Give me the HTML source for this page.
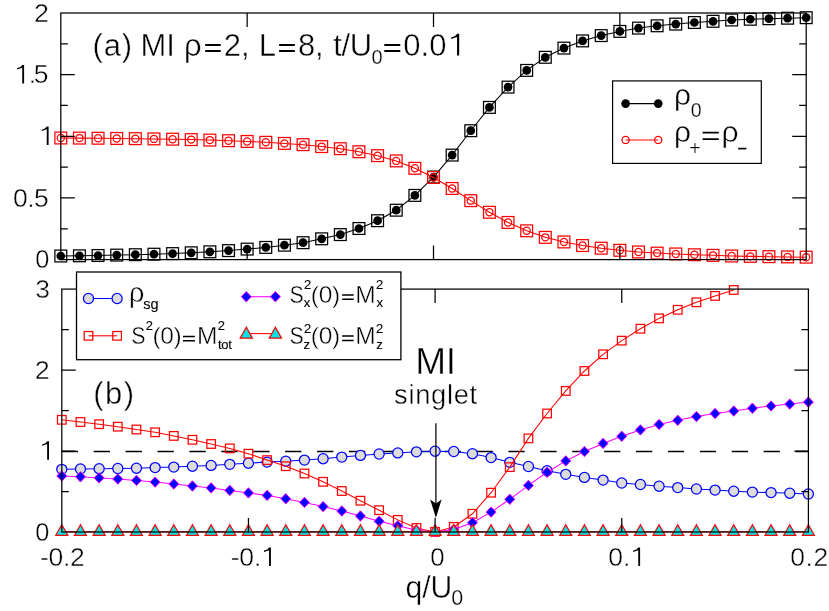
<!DOCTYPE html>
<html><head><meta charset="utf-8"><title>chart</title>
<style>html,body{margin:0;padding:0;background:#fff;}body{width:829px;height:611px;overflow:hidden;font-family:"Liberation Sans",sans-serif;}svg{display:block;}</style>
</head><body>
<svg width="829" height="611" viewBox="0 0 829 611">
<defs><filter id="gs" x="0" y="0" width="829" height="611" filterUnits="userSpaceOnUse" color-interpolation-filters="sRGB"><feColorMatrix type="saturate" values="0"/></filter></defs>
<rect x="0" y="0" width="829" height="611" fill="#fff"/>
<g fill="none" stroke="#000" stroke-width="1.05">
<polyline points="60.8,256 79.44,255.8 98.07,255.5 116.71,255.1 135.34,254.7 153.98,254.2 172.61,253.6 191.25,252.8 209.88,251.8 228.51,250.6 247.15,249.1 265.79,247.4 284.42,245.2 303.06,242.7 321.69,238.8 340.33,234.6 358.96,228.5 377.6,220.7 396.23,210.2 414.87,195.4 433.5,177.05 452.14,155.1 470.77,130.7 489.41,107.4 508.04,87.1 526.68,70.4 545.31,57.3 563.95,48.1 582.58,40.9 601.22,35.6 619.85,31.4 638.49,28.1 657.12,25.8 675.76,24.1 694.39,22.5 713.03,21.3 731.66,20 750.3,19.25 768.93,18.7 787.57,18.2 806.2,17.7"/>
</g>
<g fill="#000" stroke="none">
<circle cx="60.8" cy="256" r="4.35"/>
<circle cx="79.44" cy="255.8" r="4.35"/>
<circle cx="98.07" cy="255.5" r="4.35"/>
<circle cx="116.71" cy="255.1" r="4.35"/>
<circle cx="135.34" cy="254.7" r="4.35"/>
<circle cx="153.98" cy="254.2" r="4.35"/>
<circle cx="172.61" cy="253.6" r="4.35"/>
<circle cx="191.25" cy="252.8" r="4.35"/>
<circle cx="209.88" cy="251.8" r="4.35"/>
<circle cx="228.51" cy="250.6" r="4.35"/>
<circle cx="247.15" cy="249.1" r="4.35"/>
<circle cx="265.79" cy="247.4" r="4.35"/>
<circle cx="284.42" cy="245.2" r="4.35"/>
<circle cx="303.06" cy="242.7" r="4.35"/>
<circle cx="321.69" cy="238.8" r="4.35"/>
<circle cx="340.33" cy="234.6" r="4.35"/>
<circle cx="358.96" cy="228.5" r="4.35"/>
<circle cx="377.6" cy="220.7" r="4.35"/>
<circle cx="396.23" cy="210.2" r="4.35"/>
<circle cx="414.87" cy="195.4" r="4.35"/>
<circle cx="433.5" cy="177.05" r="4.35"/>
<circle cx="452.14" cy="155.1" r="4.35"/>
<circle cx="470.77" cy="130.7" r="4.35"/>
<circle cx="489.41" cy="107.4" r="4.35"/>
<circle cx="508.04" cy="87.1" r="4.35"/>
<circle cx="526.68" cy="70.4" r="4.35"/>
<circle cx="545.31" cy="57.3" r="4.35"/>
<circle cx="563.95" cy="48.1" r="4.35"/>
<circle cx="582.58" cy="40.9" r="4.35"/>
<circle cx="601.22" cy="35.6" r="4.35"/>
<circle cx="619.85" cy="31.4" r="4.35"/>
<circle cx="638.49" cy="28.1" r="4.35"/>
<circle cx="657.12" cy="25.8" r="4.35"/>
<circle cx="675.76" cy="24.1" r="4.35"/>
<circle cx="694.39" cy="22.5" r="4.35"/>
<circle cx="713.03" cy="21.3" r="4.35"/>
<circle cx="731.66" cy="20" r="4.35"/>
<circle cx="750.3" cy="19.25" r="4.35"/>
<circle cx="768.93" cy="18.7" r="4.35"/>
<circle cx="787.57" cy="18.2" r="4.35"/>
<circle cx="806.2" cy="17.7" r="4.35"/>
</g>
<g fill="none" stroke="#000" stroke-width="1.25">
<rect x="54.9" y="250.1" width="11.8" height="11.8"/>
<rect x="73.53" y="249.9" width="11.8" height="11.8"/>
<rect x="92.17" y="249.6" width="11.8" height="11.8"/>
<rect x="110.81" y="249.2" width="11.8" height="11.8"/>
<rect x="129.44" y="248.8" width="11.8" height="11.8"/>
<rect x="148.08" y="248.3" width="11.8" height="11.8"/>
<rect x="166.71" y="247.7" width="11.8" height="11.8"/>
<rect x="185.34" y="246.9" width="11.8" height="11.8"/>
<rect x="203.98" y="245.9" width="11.8" height="11.8"/>
<rect x="222.61" y="244.7" width="11.8" height="11.8"/>
<rect x="241.25" y="243.2" width="11.8" height="11.8"/>
<rect x="259.89" y="241.5" width="11.8" height="11.8"/>
<rect x="278.52" y="239.3" width="11.8" height="11.8"/>
<rect x="297.16" y="236.8" width="11.8" height="11.8"/>
<rect x="315.79" y="232.9" width="11.8" height="11.8"/>
<rect x="334.43" y="228.7" width="11.8" height="11.8"/>
<rect x="353.06" y="222.6" width="11.8" height="11.8"/>
<rect x="371.7" y="214.8" width="11.8" height="11.8"/>
<rect x="390.33" y="204.3" width="11.8" height="11.8"/>
<rect x="408.97" y="189.5" width="11.8" height="11.8"/>
<rect x="427.6" y="171.15" width="11.8" height="11.8"/>
<rect x="446.24" y="149.2" width="11.8" height="11.8"/>
<rect x="464.87" y="124.8" width="11.8" height="11.8"/>
<rect x="483.51" y="101.5" width="11.8" height="11.8"/>
<rect x="502.14" y="81.2" width="11.8" height="11.8"/>
<rect x="520.78" y="64.5" width="11.8" height="11.8"/>
<rect x="539.41" y="51.4" width="11.8" height="11.8"/>
<rect x="558.05" y="42.2" width="11.8" height="11.8"/>
<rect x="576.68" y="35" width="11.8" height="11.8"/>
<rect x="595.32" y="29.7" width="11.8" height="11.8"/>
<rect x="613.95" y="25.5" width="11.8" height="11.8"/>
<rect x="632.59" y="22.2" width="11.8" height="11.8"/>
<rect x="651.22" y="19.9" width="11.8" height="11.8"/>
<rect x="669.86" y="18.2" width="11.8" height="11.8"/>
<rect x="688.49" y="16.6" width="11.8" height="11.8"/>
<rect x="707.13" y="15.4" width="11.8" height="11.8"/>
<rect x="725.76" y="14.1" width="11.8" height="11.8"/>
<rect x="744.4" y="13.35" width="11.8" height="11.8"/>
<rect x="763.03" y="12.8" width="11.8" height="11.8"/>
<rect x="781.67" y="12.3" width="11.8" height="11.8"/>
<rect x="800.3" y="11.8" width="11.8" height="11.8"/>
</g>
<g fill="none" stroke="#f00" stroke-width="1.05">
<polyline points="60.8,138 79.44,138.1 98.07,138.25 116.71,138.45 135.34,138.65 153.98,138.9 172.61,139.2 191.25,139.6 209.88,140.1 228.51,140.7 247.15,141.45 265.79,142.3 284.42,143.4 303.06,144.65 321.69,146.6 340.33,148.7 358.96,151.75 377.6,155.65 396.23,160.9 414.87,168.3 433.5,177.47 452.14,188.45 470.77,200.65 489.41,212.3 508.04,222.45 526.68,230.8 545.31,237.35 563.95,241.95 582.58,245.55 601.22,248.2 619.85,250.3 638.49,251.95 657.12,253.1 675.76,253.95 694.39,254.75 713.03,255.35 731.66,256 750.3,256.38 768.93,256.65 787.57,256.9 806.2,257.15"/>
</g>
<g fill="none" stroke="#f00" stroke-width="1.25">
<circle cx="60.8" cy="138" r="3.6"/>
<rect x="54.9" y="132.1" width="11.8" height="11.8"/>
<circle cx="79.44" cy="138.1" r="3.6"/>
<rect x="73.53" y="132.2" width="11.8" height="11.8"/>
<circle cx="98.07" cy="138.25" r="3.6"/>
<rect x="92.17" y="132.35" width="11.8" height="11.8"/>
<circle cx="116.71" cy="138.45" r="3.6"/>
<rect x="110.81" y="132.55" width="11.8" height="11.8"/>
<circle cx="135.34" cy="138.65" r="3.6"/>
<rect x="129.44" y="132.75" width="11.8" height="11.8"/>
<circle cx="153.98" cy="138.9" r="3.6"/>
<rect x="148.08" y="133" width="11.8" height="11.8"/>
<circle cx="172.61" cy="139.2" r="3.6"/>
<rect x="166.71" y="133.3" width="11.8" height="11.8"/>
<circle cx="191.25" cy="139.6" r="3.6"/>
<rect x="185.34" y="133.7" width="11.8" height="11.8"/>
<circle cx="209.88" cy="140.1" r="3.6"/>
<rect x="203.98" y="134.2" width="11.8" height="11.8"/>
<circle cx="228.51" cy="140.7" r="3.6"/>
<rect x="222.61" y="134.8" width="11.8" height="11.8"/>
<circle cx="247.15" cy="141.45" r="3.6"/>
<rect x="241.25" y="135.55" width="11.8" height="11.8"/>
<circle cx="265.79" cy="142.3" r="3.6"/>
<rect x="259.89" y="136.4" width="11.8" height="11.8"/>
<circle cx="284.42" cy="143.4" r="3.6"/>
<rect x="278.52" y="137.5" width="11.8" height="11.8"/>
<circle cx="303.06" cy="144.65" r="3.6"/>
<rect x="297.16" y="138.75" width="11.8" height="11.8"/>
<circle cx="321.69" cy="146.6" r="3.6"/>
<rect x="315.79" y="140.7" width="11.8" height="11.8"/>
<circle cx="340.33" cy="148.7" r="3.6"/>
<rect x="334.43" y="142.8" width="11.8" height="11.8"/>
<circle cx="358.96" cy="151.75" r="3.6"/>
<rect x="353.06" y="145.85" width="11.8" height="11.8"/>
<circle cx="377.6" cy="155.65" r="3.6"/>
<rect x="371.7" y="149.75" width="11.8" height="11.8"/>
<circle cx="396.23" cy="160.9" r="3.6"/>
<rect x="390.33" y="155" width="11.8" height="11.8"/>
<circle cx="414.87" cy="168.3" r="3.6"/>
<rect x="408.97" y="162.4" width="11.8" height="11.8"/>
<circle cx="433.5" cy="177.47" r="3.6"/>
<rect x="427.6" y="171.57" width="11.8" height="11.8"/>
<circle cx="452.14" cy="188.45" r="3.6"/>
<rect x="446.24" y="182.55" width="11.8" height="11.8"/>
<circle cx="470.77" cy="200.65" r="3.6"/>
<rect x="464.87" y="194.75" width="11.8" height="11.8"/>
<circle cx="489.41" cy="212.3" r="3.6"/>
<rect x="483.51" y="206.4" width="11.8" height="11.8"/>
<circle cx="508.04" cy="222.45" r="3.6"/>
<rect x="502.14" y="216.55" width="11.8" height="11.8"/>
<circle cx="526.68" cy="230.8" r="3.6"/>
<rect x="520.78" y="224.9" width="11.8" height="11.8"/>
<circle cx="545.31" cy="237.35" r="3.6"/>
<rect x="539.41" y="231.45" width="11.8" height="11.8"/>
<circle cx="563.95" cy="241.95" r="3.6"/>
<rect x="558.05" y="236.05" width="11.8" height="11.8"/>
<circle cx="582.58" cy="245.55" r="3.6"/>
<rect x="576.68" y="239.65" width="11.8" height="11.8"/>
<circle cx="601.22" cy="248.2" r="3.6"/>
<rect x="595.32" y="242.3" width="11.8" height="11.8"/>
<circle cx="619.85" cy="250.3" r="3.6"/>
<rect x="613.95" y="244.4" width="11.8" height="11.8"/>
<circle cx="638.49" cy="251.95" r="3.6"/>
<rect x="632.59" y="246.05" width="11.8" height="11.8"/>
<circle cx="657.12" cy="253.1" r="3.6"/>
<rect x="651.22" y="247.2" width="11.8" height="11.8"/>
<circle cx="675.76" cy="253.95" r="3.6"/>
<rect x="669.86" y="248.05" width="11.8" height="11.8"/>
<circle cx="694.39" cy="254.75" r="3.6"/>
<rect x="688.49" y="248.85" width="11.8" height="11.8"/>
<circle cx="713.03" cy="255.35" r="3.6"/>
<rect x="707.13" y="249.45" width="11.8" height="11.8"/>
<circle cx="731.66" cy="256" r="3.6"/>
<rect x="725.76" y="250.1" width="11.8" height="11.8"/>
<circle cx="750.3" cy="256.38" r="3.6"/>
<rect x="744.4" y="250.47" width="11.8" height="11.8"/>
<circle cx="768.93" cy="256.65" r="3.6"/>
<rect x="763.03" y="250.75" width="11.8" height="11.8"/>
<circle cx="787.57" cy="256.9" r="3.6"/>
<rect x="781.67" y="251" width="11.8" height="11.8"/>
<circle cx="806.2" cy="257.15" r="3.6"/>
<rect x="800.3" y="251.25" width="11.8" height="11.8"/>
</g>
<line x1="61.8" y1="451.5" x2="808.4" y2="451.5" stroke="#000" stroke-width="1.3" stroke-dasharray="16.3 15.6"/>
<polyline fill="none" stroke="#00f" stroke-width="1.05" points="61.8,469.3 80.47,469 99.13,468.7 117.8,468.5 136.46,468.2 155.12,467.6 173.79,467.1 192.45,466.2 211.12,465.4 229.79,464.3 248.45,463.2 267.12,462.1 285.78,461.2 304.45,460.1 323.11,458.7 341.78,457.05 360.44,455.4 379.11,454 397.77,452.9 416.44,451.8 435.1,451.2 453.77,451.5 472.43,453.7 491.09,457.6 509.76,462.3 528.42,466.5 547.09,470.7 565.75,474.3 584.42,477.4 603.09,480.1 621.75,483 640.41,484.5 659.08,486.2 677.74,487.6 696.41,489 715.07,490.1 733.74,491.2 752.4,492.1 771.07,492.6 789.74,493.2 808.4,494"/>
<g fill="#dcdcdc" stroke="#00f" stroke-width="1.25">
<circle cx="61.8" cy="469.3" r="5.05"/>
<circle cx="80.47" cy="469" r="5.05"/>
<circle cx="99.13" cy="468.7" r="5.05"/>
<circle cx="117.8" cy="468.5" r="5.05"/>
<circle cx="136.46" cy="468.2" r="5.05"/>
<circle cx="155.12" cy="467.6" r="5.05"/>
<circle cx="173.79" cy="467.1" r="5.05"/>
<circle cx="192.45" cy="466.2" r="5.05"/>
<circle cx="211.12" cy="465.4" r="5.05"/>
<circle cx="229.79" cy="464.3" r="5.05"/>
<circle cx="248.45" cy="463.2" r="5.05"/>
<circle cx="267.12" cy="462.1" r="5.05"/>
<circle cx="285.78" cy="461.2" r="5.05"/>
<circle cx="304.45" cy="460.1" r="5.05"/>
<circle cx="323.11" cy="458.7" r="5.05"/>
<circle cx="341.78" cy="457.05" r="5.05"/>
<circle cx="360.44" cy="455.4" r="5.05"/>
<circle cx="379.11" cy="454" r="5.05"/>
<circle cx="397.77" cy="452.9" r="5.05"/>
<circle cx="416.44" cy="451.8" r="5.05"/>
<circle cx="435.1" cy="451.2" r="5.05"/>
<circle cx="453.77" cy="451.5" r="5.05"/>
<circle cx="472.43" cy="453.7" r="5.05"/>
<circle cx="491.09" cy="457.6" r="5.05"/>
<circle cx="509.76" cy="462.3" r="5.05"/>
<circle cx="528.42" cy="466.5" r="5.05"/>
<circle cx="547.09" cy="470.7" r="5.05"/>
<circle cx="565.75" cy="474.3" r="5.05"/>
<circle cx="584.42" cy="477.4" r="5.05"/>
<circle cx="603.09" cy="480.1" r="5.05"/>
<circle cx="621.75" cy="483" r="5.05"/>
<circle cx="640.41" cy="484.5" r="5.05"/>
<circle cx="659.08" cy="486.2" r="5.05"/>
<circle cx="677.74" cy="487.6" r="5.05"/>
<circle cx="696.41" cy="489" r="5.05"/>
<circle cx="715.07" cy="490.1" r="5.05"/>
<circle cx="733.74" cy="491.2" r="5.05"/>
<circle cx="752.4" cy="492.1" r="5.05"/>
<circle cx="771.07" cy="492.6" r="5.05"/>
<circle cx="789.74" cy="493.2" r="5.05"/>
<circle cx="808.4" cy="494" r="5.05"/>
</g>
<polyline fill="none" stroke="#f00" stroke-width="1.05" points="61.8,419.8 80.47,422 99.13,424.2 117.8,426.7 136.46,429.5 155.12,432.3 173.79,435.9 192.45,439.8 211.12,444 229.79,448.4 248.45,453.7 267.12,460.1 285.78,466.2 304.45,473.5 323.11,481.8 341.78,491 360.44,500.7 379.11,510.2 397.77,519.9 416.44,528 435.1,531.9 453.77,526.9 472.43,513.8 491.09,492.7 509.76,467.1 528.42,438.4 547.09,413.5 565.75,390.9 584.42,371 603.09,354.3 621.75,340.65 640.41,328.7 659.08,318.4 677.74,309.8 696.41,302.3 715.07,295.9 733.74,290"/>
<g fill="none" stroke="#f00" stroke-width="1.25">
<rect x="57.5" y="415.5" width="8.6" height="8.6"/>
<rect x="76.17" y="417.7" width="8.6" height="8.6"/>
<rect x="94.83" y="419.9" width="8.6" height="8.6"/>
<rect x="113.5" y="422.4" width="8.6" height="8.6"/>
<rect x="132.16" y="425.2" width="8.6" height="8.6"/>
<rect x="150.82" y="428" width="8.6" height="8.6"/>
<rect x="169.49" y="431.6" width="8.6" height="8.6"/>
<rect x="188.15" y="435.5" width="8.6" height="8.6"/>
<rect x="206.82" y="439.7" width="8.6" height="8.6"/>
<rect x="225.49" y="444.1" width="8.6" height="8.6"/>
<rect x="244.15" y="449.4" width="8.6" height="8.6"/>
<rect x="262.81" y="455.8" width="8.6" height="8.6"/>
<rect x="281.48" y="461.9" width="8.6" height="8.6"/>
<rect x="300.15" y="469.2" width="8.6" height="8.6"/>
<rect x="318.81" y="477.5" width="8.6" height="8.6"/>
<rect x="337.48" y="486.7" width="8.6" height="8.6"/>
<rect x="356.14" y="496.4" width="8.6" height="8.6"/>
<rect x="374.81" y="505.9" width="8.6" height="8.6"/>
<rect x="393.47" y="515.6" width="8.6" height="8.6"/>
<rect x="412.13" y="523.7" width="8.6" height="8.6"/>
<rect x="430.8" y="527.6" width="8.6" height="8.6"/>
<rect x="449.47" y="522.6" width="8.6" height="8.6"/>
<rect x="468.13" y="509.5" width="8.6" height="8.6"/>
<rect x="486.79" y="488.4" width="8.6" height="8.6"/>
<rect x="505.46" y="462.8" width="8.6" height="8.6"/>
<rect x="524.12" y="434.1" width="8.6" height="8.6"/>
<rect x="542.79" y="409.2" width="8.6" height="8.6"/>
<rect x="561.46" y="386.6" width="8.6" height="8.6"/>
<rect x="580.12" y="366.7" width="8.6" height="8.6"/>
<rect x="598.79" y="350" width="8.6" height="8.6"/>
<rect x="617.45" y="336.35" width="8.6" height="8.6"/>
<rect x="636.12" y="324.4" width="8.6" height="8.6"/>
<rect x="654.78" y="314.1" width="8.6" height="8.6"/>
<rect x="673.44" y="305.5" width="8.6" height="8.6"/>
<rect x="692.11" y="298" width="8.6" height="8.6"/>
<rect x="710.77" y="291.6" width="8.6" height="8.6"/>
<rect x="729.44" y="285.7" width="8.6" height="8.6"/>
</g>
<polyline fill="none" stroke="#f0f" stroke-width="1.05" points="61.8,476 80.47,476.8 99.13,477.9 117.8,479 136.46,480.4 155.12,482.1 173.79,484 192.45,486 211.12,487.9 229.79,490.4 248.45,492.9 267.12,495.4 285.78,498.8 304.45,502.4 323.11,506.6 341.78,511 360.44,516 379.11,521.3 397.77,525.8 416.44,530.2 435.1,531.9 453.77,529.4 472.43,522.7 491.09,512.1 509.76,499.3 528.42,485.4 547.09,472.3 565.75,460.9 584.42,451.5 603.09,443.4 621.75,436.3 640.41,429.9 659.08,424.5 677.74,420.3 696.41,416.6 715.07,413.5 733.74,411 752.4,408.2 771.07,406 789.74,404.1 808.4,402.1"/>
<g fill="#00f" stroke="#f0f" stroke-width="1">
<polygon points="56.8,476 61.8,470.8 66.8,476 61.8,481.2"/>
<polygon points="75.47,476.8 80.47,471.6 85.47,476.8 80.47,482"/>
<polygon points="94.13,477.9 99.13,472.7 104.13,477.9 99.13,483.1"/>
<polygon points="112.8,479 117.8,473.8 122.8,479 117.8,484.2"/>
<polygon points="131.46,480.4 136.46,475.2 141.46,480.4 136.46,485.6"/>
<polygon points="150.12,482.1 155.12,476.9 160.12,482.1 155.12,487.3"/>
<polygon points="168.79,484 173.79,478.8 178.79,484 173.79,489.2"/>
<polygon points="187.45,486 192.45,480.8 197.45,486 192.45,491.2"/>
<polygon points="206.12,487.9 211.12,482.7 216.12,487.9 211.12,493.1"/>
<polygon points="224.79,490.4 229.79,485.2 234.79,490.4 229.79,495.6"/>
<polygon points="243.45,492.9 248.45,487.7 253.45,492.9 248.45,498.1"/>
<polygon points="262.12,495.4 267.12,490.2 272.12,495.4 267.12,500.6"/>
<polygon points="280.78,498.8 285.78,493.6 290.78,498.8 285.78,504"/>
<polygon points="299.45,502.4 304.45,497.2 309.45,502.4 304.45,507.6"/>
<polygon points="318.11,506.6 323.11,501.4 328.11,506.6 323.11,511.8"/>
<polygon points="336.78,511 341.78,505.8 346.78,511 341.78,516.2"/>
<polygon points="355.44,516 360.44,510.8 365.44,516 360.44,521.2"/>
<polygon points="374.11,521.3 379.11,516.1 384.11,521.3 379.11,526.5"/>
<polygon points="392.77,525.8 397.77,520.6 402.77,525.8 397.77,531"/>
<polygon points="411.44,530.2 416.44,525 421.44,530.2 416.44,535.4"/>
<polygon points="430.1,531.9 435.1,526.7 440.1,531.9 435.1,537.1"/>
<polygon points="448.77,529.4 453.77,524.2 458.77,529.4 453.77,534.6"/>
<polygon points="467.43,522.7 472.43,517.5 477.43,522.7 472.43,527.9"/>
<polygon points="486.09,512.1 491.09,506.9 496.09,512.1 491.09,517.3"/>
<polygon points="504.76,499.3 509.76,494.1 514.76,499.3 509.76,504.5"/>
<polygon points="523.42,485.4 528.42,480.2 533.42,485.4 528.42,490.6"/>
<polygon points="542.09,472.3 547.09,467.1 552.09,472.3 547.09,477.5"/>
<polygon points="560.75,460.9 565.75,455.7 570.75,460.9 565.75,466.1"/>
<polygon points="579.42,451.5 584.42,446.3 589.42,451.5 584.42,456.7"/>
<polygon points="598.09,443.4 603.09,438.2 608.09,443.4 603.09,448.6"/>
<polygon points="616.75,436.3 621.75,431.1 626.75,436.3 621.75,441.5"/>
<polygon points="635.41,429.9 640.41,424.7 645.41,429.9 640.41,435.1"/>
<polygon points="654.08,424.5 659.08,419.3 664.08,424.5 659.08,429.7"/>
<polygon points="672.74,420.3 677.74,415.1 682.74,420.3 677.74,425.5"/>
<polygon points="691.41,416.6 696.41,411.4 701.41,416.6 696.41,421.8"/>
<polygon points="710.07,413.5 715.07,408.3 720.07,413.5 715.07,418.7"/>
<polygon points="728.74,411 733.74,405.8 738.74,411 733.74,416.2"/>
<polygon points="747.4,408.2 752.4,403 757.4,408.2 752.4,413.4"/>
<polygon points="766.07,406 771.07,400.8 776.07,406 771.07,411.2"/>
<polygon points="784.74,404.1 789.74,398.9 794.74,404.1 789.74,409.3"/>
<polygon points="803.4,402.1 808.4,396.9 813.4,402.1 808.4,407.3"/>
</g>
<line x1="61.8" y1="531.8" x2="808.4" y2="531.8" stroke="#f00" stroke-width="1.05"/>
<g fill="#00e6e6" stroke="#f00" stroke-width="1.25">
<polygon points="61.8,524.7 55.8,535.3 67.8,535.3"/>
<polygon points="80.47,524.7 74.47,535.3 86.47,535.3"/>
<polygon points="99.13,524.7 93.13,535.3 105.13,535.3"/>
<polygon points="117.8,524.7 111.8,535.3 123.8,535.3"/>
<polygon points="136.46,524.7 130.46,535.3 142.46,535.3"/>
<polygon points="155.12,524.7 149.12,535.3 161.12,535.3"/>
<polygon points="173.79,524.7 167.79,535.3 179.79,535.3"/>
<polygon points="192.45,524.7 186.45,535.3 198.45,535.3"/>
<polygon points="211.12,524.7 205.12,535.3 217.12,535.3"/>
<polygon points="229.79,524.7 223.79,535.3 235.79,535.3"/>
<polygon points="248.45,524.7 242.45,535.3 254.45,535.3"/>
<polygon points="267.12,524.7 261.12,535.3 273.12,535.3"/>
<polygon points="285.78,524.7 279.78,535.3 291.78,535.3"/>
<polygon points="304.45,524.7 298.45,535.3 310.45,535.3"/>
<polygon points="323.11,524.7 317.11,535.3 329.11,535.3"/>
<polygon points="341.78,524.7 335.78,535.3 347.78,535.3"/>
<polygon points="360.44,524.7 354.44,535.3 366.44,535.3"/>
<polygon points="379.11,524.7 373.11,535.3 385.11,535.3"/>
<polygon points="397.77,524.7 391.77,535.3 403.77,535.3"/>
<polygon points="416.44,524.7 410.44,535.3 422.44,535.3"/>
<polygon points="435.1,524.7 429.1,535.3 441.1,535.3"/>
<polygon points="453.77,524.7 447.77,535.3 459.77,535.3"/>
<polygon points="472.43,524.7 466.43,535.3 478.43,535.3"/>
<polygon points="491.09,524.7 485.09,535.3 497.09,535.3"/>
<polygon points="509.76,524.7 503.76,535.3 515.76,535.3"/>
<polygon points="528.42,524.7 522.42,535.3 534.42,535.3"/>
<polygon points="547.09,524.7 541.09,535.3 553.09,535.3"/>
<polygon points="565.75,524.7 559.75,535.3 571.75,535.3"/>
<polygon points="584.42,524.7 578.42,535.3 590.42,535.3"/>
<polygon points="603.09,524.7 597.09,535.3 609.09,535.3"/>
<polygon points="621.75,524.7 615.75,535.3 627.75,535.3"/>
<polygon points="640.41,524.7 634.41,535.3 646.41,535.3"/>
<polygon points="659.08,524.7 653.08,535.3 665.08,535.3"/>
<polygon points="677.74,524.7 671.74,535.3 683.74,535.3"/>
<polygon points="696.41,524.7 690.41,535.3 702.41,535.3"/>
<polygon points="715.07,524.7 709.07,535.3 721.07,535.3"/>
<polygon points="733.74,524.7 727.74,535.3 739.74,535.3"/>
<polygon points="752.4,524.7 746.4,535.3 758.4,535.3"/>
<polygon points="771.07,524.7 765.07,535.3 777.07,535.3"/>
<polygon points="789.74,524.7 783.74,535.3 795.74,535.3"/>
<polygon points="808.4,524.7 802.4,535.3 814.4,535.3"/>
</g>
<g fill="none" stroke="#000" stroke-width="1.25" stroke-linecap="butt">
<rect x="60.8" y="13" width="745.4" height="246.6"/>
<path d="M247.15 259.6v-14M247.15 13v14"/>
<path d="M433.5 259.6v-14M433.5 13v14"/>
<path d="M619.85 259.6v-14M619.85 13v14"/>
<path d="M60.8 74.65h14M806.2 74.65h-14"/>
<path d="M60.8 136.3h14M806.2 136.3h-14"/>
<path d="M60.8 197.95h14M806.2 197.95h-14"/>
<path d="M60.8 43.83h7M806.2 43.83h-7"/>
<path d="M60.8 105.48h7M806.2 105.48h-7"/>
<path d="M60.8 167.12h7M806.2 167.12h-7"/>
<path d="M60.8 228.78h7M806.2 228.78h-7"/>
</g>
<g fill="none" stroke="#000" stroke-width="1.25" stroke-linecap="butt">
<rect x="61.8" y="289.1" width="746.6" height="242.9"/>
<path d="M248.45 532v-14M248.45 289.1v14"/>
<path d="M435.1 532v-14M435.1 289.1v14"/>
<path d="M621.75 532v-14M621.75 289.1v14"/>
<path d="M61.8 370.07h14M808.4 370.07h-14"/>
<path d="M61.8 451.03h14M808.4 451.03h-14"/>
<path d="M61.8 329.58h7M808.4 329.58h-7"/>
<path d="M61.8 410.55h7M808.4 410.55h-7"/>
<path d="M61.8 491.52h7M808.4 491.52h-7"/>
</g>
<rect x="612.6" y="80.9" width="148.7" height="82.5" fill="#fff" stroke="#000" stroke-width="1.2"/>
<line x1="625.6" y1="103.6" x2="658.2" y2="103.6" stroke="#000" stroke-width="1.05"/>
<circle cx="625.6" cy="103.6" r="4.35"/><circle cx="658.2" cy="103.6" r="4.35"/>
<path d="M702.6 132.6H718.8M702.6 139.1H718.8" stroke="#000" stroke-width="1.7" fill="none"/>
<path d="M738.2 148.6H746.3" stroke="#000" stroke-width="1.7" fill="none"/>
<line x1="625.6" y1="139.9" x2="658.2" y2="139.9" stroke="#f00" stroke-width="1.05"/>
<g fill="none" stroke="#f00" stroke-width="1.25"><circle cx="625.6" cy="139.9" r="3.6"/><circle cx="658.2" cy="139.9" r="3.6"/></g>
<rect x="76.5" y="272" width="324.4" height="87.7" fill="#fff" stroke="#000" stroke-width="1.3"/>
<line x1="88.5" y1="298.5" x2="117.1" y2="298.5" stroke="#00f" stroke-width="1.05"/>
<g fill="#dcdcdc" stroke="#00f" stroke-width="1.25"><circle cx="88.5" cy="298.5" r="5.05"/><circle cx="117.1" cy="298.5" r="5.05"/></g>
<line x1="88.5" y1="335.8" x2="117.1" y2="335.8" stroke="#f00" stroke-width="1.05"/>
<g fill="none" stroke="#f00" stroke-width="1.25"><rect x="84.2" y="331.5" width="8.6" height="8.6"/><rect x="112.8" y="331.5" width="8.6" height="8.6"/></g>
<line x1="246.3" y1="296.7" x2="275.4" y2="296.7" stroke="#f0f" stroke-width="1.05"/>
<g fill="#00f" stroke="#f0f" stroke-width="1">
<polygon points="241.3,296.7 246.3,291.5 251.3,296.7 246.3,301.9"/>
<polygon points="270.4,296.7 275.4,291.5 280.4,296.7 275.4,301.9"/>
</g>
<line x1="246.3" y1="333.6" x2="275.4" y2="333.6" stroke="#f00" stroke-width="1.05"/>
<g fill="#00e6e6" stroke="#f00" stroke-width="1.25">
<polygon points="246.3,327.2 240.2,338.2 252.4,338.2"/>
<polygon points="275.4,327.2 269.3,338.2 281.5,338.2"/>
</g>
<line x1="435.9" y1="423.3" x2="435.9" y2="505" stroke="#000" stroke-width="1.25"/>
<polygon points="435.9,518 430.2,499.4 435.9,503.6 441.6,499.4" fill="#000"/>
<g font-family="'Liberation Sans', sans-serif" fill="#000" stroke="#fff" stroke-width="0" filter="url(#gs)">
<text transform="translate(33.94 21.8) scale(1.0143 1)" font-size="26.5" stroke-width="0.42">2</text>
<text x="28.73" y="83.45" font-size="26.5" letter-spacing="-2.26" stroke-width="0.42">.5</text>
<text x="12.94" y="206.75" font-size="26.5" letter-spacing="-0.5" stroke-width="0.42">0.5</text>
<text transform="translate(35.31 268.4) scale(0.9585 1)" font-size="26.5" stroke-width="0.42">0</text>
<text transform="translate(35.27 297.9) scale(0.9972 1)" font-size="26.5" stroke-width="0.42">3</text>
<text transform="translate(34.74 378.87) scale(1.0143 1)" font-size="26.5" stroke-width="0.42">2</text>
<text transform="translate(35.31 540.8) scale(0.9585 1)" font-size="26.5" stroke-width="0.42">0</text>
<text x="40.04" y="566" font-size="26.5" letter-spacing="-0.3" stroke-width="0.42">-0.2</text>
<text x="230.67" y="566" font-size="26.5" letter-spacing="-0.15" stroke-width="0.42">-0.</text>
<text transform="translate(430.14 566) scale(0.9736 1)" font-size="26.5" stroke-width="0.42">0</text>
<text x="608.17" y="566" font-size="26.5" letter-spacing="0.12" stroke-width="0.42">0.</text>
<text x="790.17" y="566" font-size="26.5" letter-spacing="0.63" stroke-width="0.42">0.2</text>
<text transform="translate(405.46 597.5) scale(0.9888 1)" font-size="30.5" stroke-width="0.42">q/U</text>
<text x="451.33" y="604.5" font-size="21.5" stroke-width="0.25">0</text>
<text x="92.55" y="55.5" font-size="31" letter-spacing="0.79" stroke-width="0.42">(a)</text>
<text x="140.38" y="55.5" font-size="31" letter-spacing="-0.01" stroke-width="0.42">MI</text>
<text x="183.96" y="55.5" font-size="31" stroke-width="0.42">&#961;</text>
<text x="223.65" y="55.5" font-size="31" letter-spacing="0.12" stroke-width="0.42">2,</text>
<text x="258.78" y="55.5" font-size="31" stroke-width="0.42">L</text>
<text x="297.93" y="55.5" font-size="31" letter-spacing="-0.27" stroke-width="0.42">8,</text>
<text x="333.3" y="55.5" font-size="31" letter-spacing="-0.43" stroke-width="0.42">t/U</text>
<text x="371.38" y="63.9" font-size="20" stroke-width="0.25">0</text>
<text x="403.23" y="55.5" font-size="31" letter-spacing="0.07" stroke-width="0.42">0.0</text>
<text x="93.15" y="404" font-size="31" letter-spacing="1.49" stroke-width="0.42">(b)</text>
<text x="415.21" y="374.2" font-size="37" letter-spacing="-0.17" stroke-width="0.42">MI</text>
<text x="394.07" y="404" font-size="27.3" letter-spacing="0.69" stroke-width="0.42">singlet</text>
<text x="673.92" y="105.4" font-size="30" stroke-width="0.42">&#961;</text>
<text x="690.79" y="116.6" font-size="19.5" stroke-width="0.25">0</text>
<text x="673.92" y="142.3" font-size="30" stroke-width="0.42">&#961;</text>
<text x="689.29" y="155" font-size="19.5" stroke-width="0.25">+</text>
<text x="721.42" y="142.3" font-size="30" stroke-width="0.42">&#961;</text>
<text x="129.11" y="302" font-size="27" stroke-width="0.42">&#961;</text>
<text x="143.37" y="308.8" font-size="14.5" stroke="#000" stroke-width="0.12">sg</text>
<text transform="translate(131.23 344) scale(0.8730 1)" font-size="24.5" stroke-width="0.42">S</text>
<text x="145.79" y="330" font-size="13" stroke="#000" stroke-width="0.12">2</text>
<text x="152.55" y="344" font-size="24.5" letter-spacing="-0.46" stroke-width="0.42">(0)</text>
<text x="196.99" y="344" font-size="24.5" stroke-width="0.42">M</text>
<text x="217.69" y="330" font-size="13" stroke="#000" stroke-width="0.12">2</text>
<text x="218" y="348.9" font-size="13" letter-spacing="-0.3" stroke="#000" stroke-width="0.12">tot</text>
<text transform="translate(289.43 303.2) scale(0.8730 1)" font-size="24.5" stroke-width="0.42">S</text>
<text x="304.09" y="289.3" font-size="13" stroke="#000" stroke-width="0.12">2</text>
<text x="303.8" y="306.5" font-size="13" stroke="#000" stroke-width="0.12">x</text>
<text x="310.85" y="303.2" font-size="24.5" letter-spacing="-0.36" stroke-width="0.42">(0)</text>
<text x="355.19" y="303.2" font-size="24.5" stroke-width="0.42">M</text>
<text x="375.99" y="289.3" font-size="13" stroke="#000" stroke-width="0.12">2</text>
<text x="376.6" y="306.5" font-size="13" stroke="#000" stroke-width="0.12">x</text>
<text transform="translate(289.43 344.3) scale(0.8730 1)" font-size="24.5" stroke-width="0.42">S</text>
<text x="304.09" y="333.4" font-size="13" stroke="#000" stroke-width="0.12">2</text>
<text x="303.39" y="349.4" font-size="13" stroke="#000" stroke-width="0.12">z</text>
<text x="310.85" y="344.3" font-size="24.5" letter-spacing="-0.36" stroke-width="0.42">(0)</text>
<text x="355.19" y="344.3" font-size="24.5" stroke-width="0.42">M</text>
<text x="375.99" y="333.4" font-size="13" stroke="#000" stroke-width="0.12">2</text>
<text x="376.19" y="349.4" font-size="13" stroke="#000" stroke-width="0.12">z</text>
</g>
<path d="M205.2 45H220.8M205.2 51H220.8" stroke="#000" stroke-width="1.8" fill="none"/>
<path d="M279.1 45H294.9M279.1 51H294.9" stroke="#000" stroke-width="1.8" fill="none"/>
<path d="M384.3 45H400.3M384.3 51H400.3" stroke="#000" stroke-width="1.8" fill="none"/>
<path d="M183 336.6H194.9M183 340.7H194.9" stroke="#000" stroke-width="1.5" fill="none"/>
<path d="M342.1 294.9H353.7M342.1 299.3H353.7" stroke="#000" stroke-width="1.5" fill="none"/>
<path d="M342.1 336H353.7M342.1 340.4H353.7" stroke="#000" stroke-width="1.5" fill="none"/>
<g fill="#000">
<path d="M24.1 64.9V83.45H22.25V67.68L17.21 69.38V68.03Q21.19 67.29 22.25 64.9Z"/>
<path d="M48.6 126.55V145.1H46.75V129.33L41.71 131.03V129.68Q45.69 128.94 46.75 126.55Z"/>
<path d="M49 441.28V459.83H47.15V444.07L42.11 445.76V444.41Q46.09 443.67 47.15 441.28Z"/>
<path d="M270.9 547.45V566H269.04V550.23L264.01 551.93V550.58Q267.98 549.84 269.04 547.45Z"/>
<path d="M640.1 547.45V566H638.25V550.23L633.21 551.93V550.58Q637.19 549.84 638.25 547.45Z"/>
<path d="M459.2 33.8V55.5H457.03V37.05L451.14 39.04V37.46Q455.79 36.59 457.03 33.8Z"/>
</g>
</svg>
</body></html>
